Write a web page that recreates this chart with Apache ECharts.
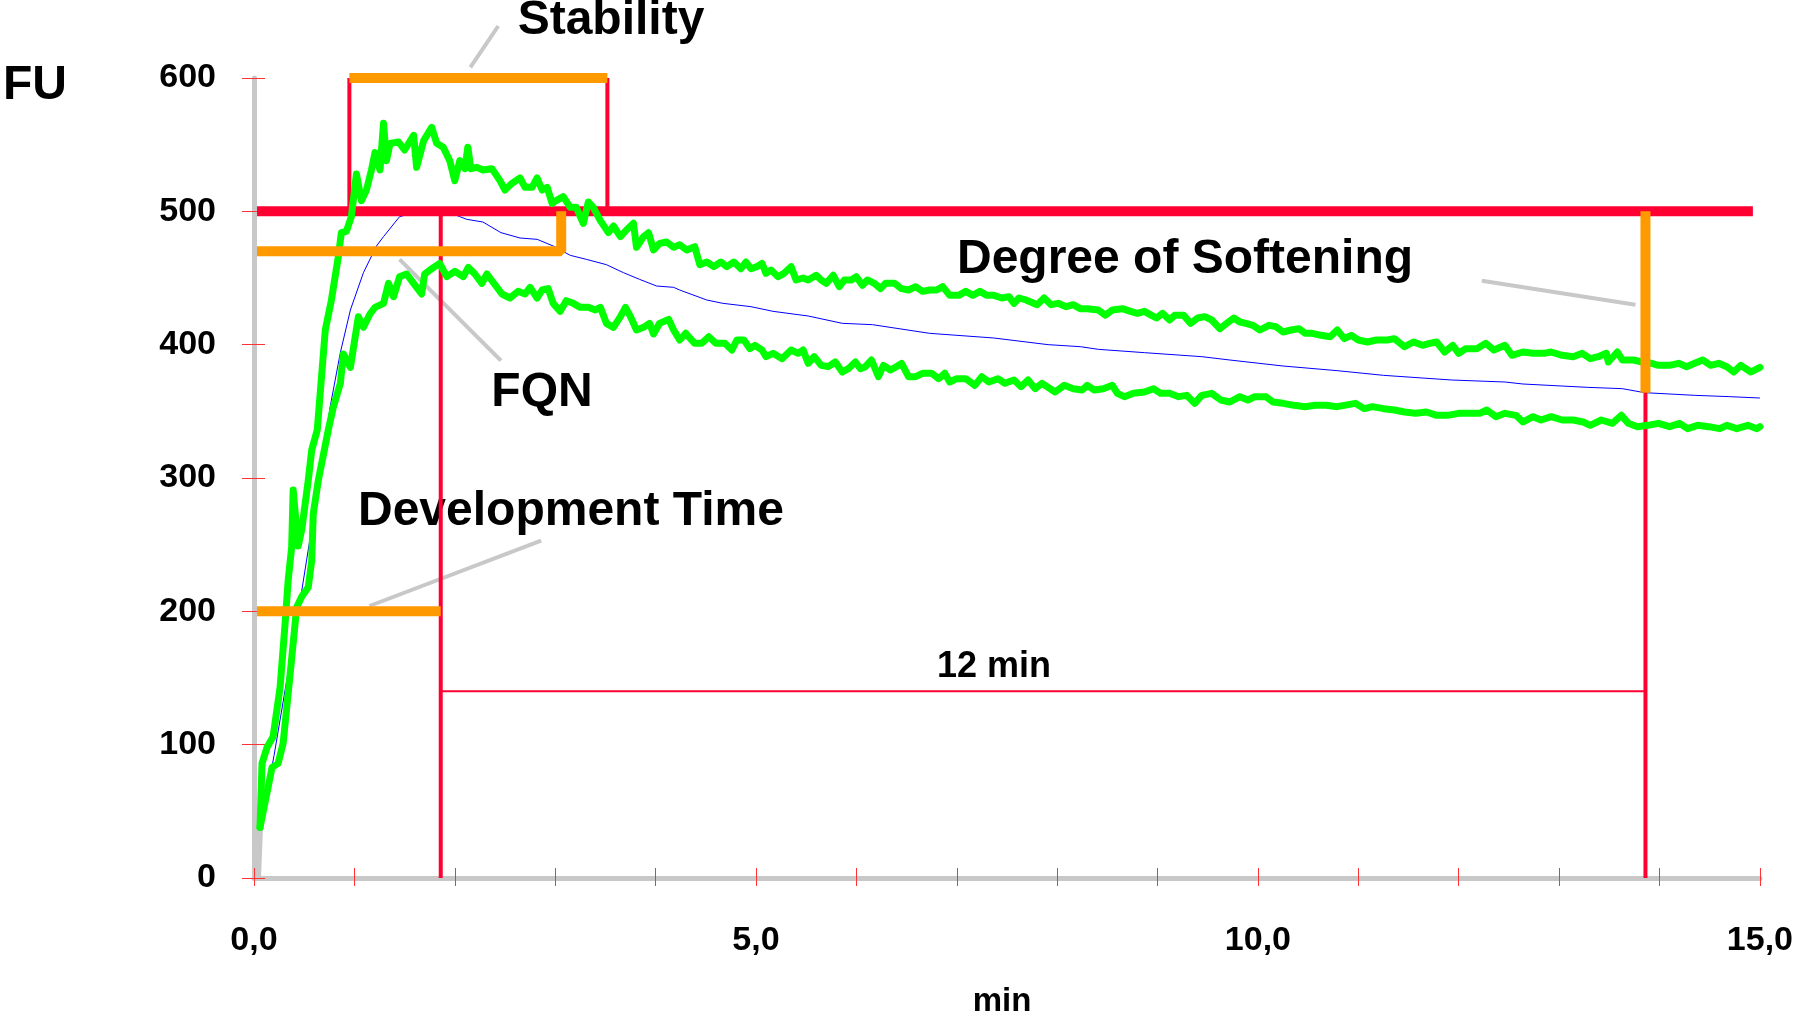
<!DOCTYPE html>
<html>
<head>
<meta charset="utf-8">
<title>Farinogram</title>
<script src="https://cdn.jsdelivr.net/npm/echarts@6/dist/echarts.min.js"></script>
<style>
  html, body { margin: 0; padding: 0; background: #fff; }
  #chart { width: 1796px; height: 1018px; }
</style>
</head>
<body>
<div id="chart"></div>
<script>
// consistency curves, [min, FU]
const upperCurve = [
  [0.06,38],[0.08,86],[0.13,98],[0.19,106],[0.26,143],[0.31,191],[0.34,223],[0.375,248],[0.39,291],[0.44,249],
  [0.475,261],[0.54,298],[0.575,321],[0.63,336],[0.71,411],[0.77,433],[0.84,466],[0.87,484],[0.92,485],[0.97,496],
  [1.02,528],[1.07,508],[1.12,516],[1.17,531],[1.205,544],[1.255,531],[1.29,566],[1.32,538],[1.355,551],[1.44,552],
  [1.50,546],[1.59,557],[1.62,533],[1.69,553],[1.77,563],[1.82,551],[1.885,548],[1.95,538],[2.00,523],[2.05,538],
  [2.10,532],[2.13,548],[2.16,532],[2.22,533],[2.28,531],[2.37,532],[2.45,523],[2.50,516],[2.57,521],[2.65,525],
  [2.70,518],[2.77,518],[2.82,525],[2.87,516],[2.92,518],[2.97,506],[3.01,508],[3.08,511],[3.15,503],[3.21,503],
  [3.28,491],[3.33,507],[3.38,503],[3.45,493],[3.53,484],[3.58,489],[3.65,481],[3.71,486],[3.78,491],[3.81,473],
  [3.88,481],[3.93,484],[3.98,471],[4.04,476],[4.11,477],[4.18,473],[4.24,475],[4.31,471],[4.39,473.5],[4.44,460],
  [4.51,462],[4.58,458.5],[4.65,462],[4.71,458.5],[4.78,462],[4.85,457],[4.90,462],[4.95,457],[5.01,458.5],[5.06,461],
  [5.10,453.5],[5.15,456],[5.22,451],[5.28,453.5],[5.35,458.5],[5.40,448.5],[5.47,450],[5.52,448.5],[5.60,452],[5.65,448.5],
  [5.70,446],[5.77,452],[5.83,443.5],[5.88,448.5],[5.95,448.5],[6.00,451],[6.06,444.5],[6.11,448.5],[6.18,446],[6.24,442],
  [6.29,446],[6.38,446],[6.45,442],[6.52,441],[6.59,443.5],[6.66,440],[6.73,441],[6.80,441],[6.86,443.5],[6.93,437],
  [7.02,437],[7.09,440],[7.16,437],[7.23,440],[7.30,437],[7.37,437],[7.45,435],[7.52,436],[7.57,431],[7.62,435],
  [7.69,433.5],[7.80,430],[7.87,435],[7.94,430],[8.01,431],[8.09,428.5],[8.16,430],[8.23,427],[8.30,427],[8.41,426],
  [8.48,422],[8.55,426],[8.65,427],[8.73,425],[8.80,423.5],[8.87,425],[8.94,422],[8.99,420],[9.05,423.5],[9.12,418.5],
  [9.17,422],[9.26,422],[9.33,416],[9.40,420],[9.47,421],[9.54,418.5],[9.62,412],[9.69,416],[9.76,420],[9.82,417],
  [9.88,416],[9.95,414.5],[10.02,411],[10.11,414.5],[10.18,413.5],[10.25,409.5],[10.33,411],[10.41,412],[10.47,408.5],[10.54,408.5],
  [10.63,407],[10.72,406],[10.79,411],[10.86,404.5],[10.93,407],[11.00,403.5],[11.09,402],[11.18,403.5],[11.29,403.5],[11.36,404.5],
  [11.46,398.5],[11.55,402],[11.64,399.5],[11.71,401],[11.78,402],[11.86,394.5],[11.94,399.5],[12.00,393.5],[12.07,397],[12.18,397],
  [12.27,401],[12.35,396],[12.46,399.5],[12.53,392],[12.64,394.5],[12.74,393.5],[12.85,393.5],[12.92,394.5],[13.03,392],[13.14,391],
  [13.23,393.5],[13.31,389.5],[13.39,391],[13.47,393.5],[13.49,387],[13.58,394.5],[13.63,388.5],[13.74,388.5],[13.83,387],[13.92,386],
  [13.99,384.5],[14.10,384.5],[14.19,386],[14.27,383.5],[14.35,386],[14.43,388.5],[14.51,384.5],[14.59,386],[14.67,383.5],[14.74,379.5],
  [14.81,384.5],[14.91,379.5],[15.00,383]
];

const lowerCurve = [
  [0.06,38],[0.18,83],[0.24,86],[0.29,101],[0.36,153],[0.425,203],[0.475,211],[0.54,218],[0.575,238],[0.59,273],
  [0.64,298],[0.74,336],[0.79,353],[0.86,371],[0.89,393],[0.96,383],[1.04,421],[1.09,413],[1.155,423],[1.205,428],
  [1.29,431],[1.34,446],[1.39,436],[1.45,451],[1.52,453],[1.59,446],[1.67,438],[1.70,453],[1.79,458],[1.85,461],
  [1.92,451],[2.00,455],[2.085,451],[2.135,458],[2.20,453],[2.27,446],[2.32,453],[2.38,447],[2.47,438],[2.55,435],
  [2.63,440],[2.70,438],[2.75,443],[2.82,435],[2.87,441],[2.93,442],[2.98,431],[3.05,425],[3.11,433],[3.18,431],
  [3.25,428],[3.33,428],[3.40,426],[3.45,428],[3.51,416],[3.58,413],[3.65,421],[3.70,428],[3.75,421],[3.81,411],
  [3.88,413],[3.94,416],[3.98,408],[4.04,416],[4.13,419],[4.18,411],[4.24,403.5],[4.30,408.5],[4.39,401],[4.46,401],
  [4.53,406],[4.60,401],[4.69,401],[4.76,396],[4.81,403.5],[4.88,403.5],[4.94,397],[4.99,399.5],[5.06,396],[5.10,391],
  [5.17,393.5],[5.26,389.5],[5.35,396],[5.42,393.5],[5.47,396],[5.52,386],[5.58,391],[5.65,384.5],[5.72,383.5],[5.79,387],
  [5.86,379.5],[5.92,382],[5.99,387],[6.04,382],[6.09,383.5],[6.15,388.5],[6.22,376],[6.27,384.5],[6.34,381],[6.40,383.5],
  [6.45,386],[6.52,376],[6.59,376],[6.66,378.5],[6.75,378.5],[6.82,374.5],[6.88,378.5],[6.93,372],[7.00,374.5],[7.09,374.5],
  [7.18,369.5],[7.25,376],[7.32,372],[7.41,374.5],[7.48,371],[7.57,373.5],[7.64,368.5],[7.71,373.5],[7.78,367],[7.85,371],
  [7.98,364.5],[8.07,369.5],[8.16,367],[8.25,366],[8.30,369.5],[8.37,366],[8.46,367],[8.55,369.5],[8.60,363.5],[8.67,361],
  [8.76,363.5],[8.87,364.5],[8.96,367],[9.03,363.5],[9.12,363.5],[9.21,361],[9.29,362],[9.37,356],[9.44,362],[9.54,363.5],
  [9.63,358.5],[9.72,357],[9.82,361],[9.90,358.5],[9.97,361],[10.08,361],[10.15,357],[10.25,356],[10.36,354.5],[10.47,353.5],
  [10.57,354.5],[10.68,354.5],[10.79,353.5],[10.86,354.5],[10.97,356],[11.06,352],[11.14,353.5],[11.25,352],[11.36,351],[11.46,349.5],
  [11.57,348.5],[11.68,349.5],[11.78,347],[11.89,347],[12.00,348.5],[12.10,348.5],[12.21,348.5],[12.28,351],[12.37,346],[12.46,348.5],
  [12.57,347],[12.64,342],[12.74,346],[12.82,343.5],[12.92,346],[13.03,343.5],[13.14,343.5],[13.24,342],[13.31,339.5],[13.42,343.5],
  [13.53,341],[13.62,347],[13.69,341],[13.78,338.5],[13.88,339.5],[13.99,341],[14.10,338.5],[14.20,341],[14.28,337],[14.38,339.5],
  [14.49,338.5],[14.60,337],[14.67,339.5],[14.77,337],[14.88,339.5],[14.97,337],[15.00,338.5]
];

const medianCurve = [
  [0.06,36],[0.2,92],[0.33,150],[0.46,208],[0.62,284],[0.76,354],[0.86,394],[0.96,426],[1.09,454],[1.22,474],
  [1.29,481],[1.45,496],[1.6,499],[1.8,501],[1.95,499],[2.05,496],[2.12,494],[2.28,492],[2.46,484],[2.65,480],
  [2.82,479],[2.98,474],[3.15,467],[3.31,464],[3.51,460],[3.68,454],[3.84,449],[4.01,444],[4.18,443],[4.24,441],
  [4.51,433.5],[4.67,431],[4.95,428.5],[5.17,425],[5.52,421.5],[5.86,416],[6.16,415],[6.73,408.5],[7.37,405],[7.91,400],
  [8.23,398.5],[8.41,396.5],[8.87,394],[9.44,391],[9.72,388.5],[10.25,384],[10.79,380.5],[11.25,377],[11.93,373.5],[12.46,372],
  [12.64,370.5],[13.28,368],[13.63,367],[13.85,364],[14.35,362],[14.70,361],[15.00,360]
];
const startTrace = [[0.04,0],[0.06,38]];

// evaluation (min / FU)
const devTime = 1.86;
const softTime = 13.86;
const stabStart = 0.95;
const stabEnd = 3.52;
const fqnTime = 3.06;
const lineFU = 500;
const fqnFU = 470;
const devFU = 200;
const softFU = 364;
const spanFU = 140;

// leader lines from labels
const stabLeader = [[2.155,608],[2.433,639]];
const fqnLeader = [[1.45,464],[2.46,388]];
const devLeader = [[1.15,204],[2.86,253]];
const softLeader = [[12.23,448],[13.76,430]];

const RED = '#ff0033', ORANGE = '#ff9900', GREEN = '#00ff00', BLUE = '#0000ff', GREY = '#c8c8c8';
const FONT = '"Liberation Sans", Arial, sans-serif';

function seg(data, color, width, z, extra) {
  return Object.assign({
    type: 'line', data: data, symbol: 'none', clip: false, silent: true, z: z,
    animation: false, lineStyle: { color: color, width: width }
  }, extra || {});
}

function label(text, x, y, size, align) {
  return {
    type: 'text', x: x, y: y, silent: true,
    style: { text: text, fill: '#000', fontSize: size, fontWeight: 'bold', fontFamily: FONT,
             align: align || 'center', verticalAlign: 'middle' }
  };
}

const chart = echarts.init(document.getElementById('chart'));

const tickStyle = { color: '#ff3333', width: 1 };

chart.setOption({
  animation: false,
  backgroundColor: '#fff',
  grid: { left: 254, top: 78, right: 32, bottom: 140, containLabel: false },
  xAxis: [
    {
      type: 'value', min: 0, max: 15, interval: 1, position: 'bottom',
      axisLine: { show: true, lineStyle: { color: GREY, width: 5 } },
      axisTick: { show: true, length: 8, lineStyle: tickStyle },
      axisLabel: {
        margin: 46, fontSize: 34, fontWeight: 'bold', fontFamily: FONT, color: '#000',
        formatter: v => (v % 5 === 0 ? v.toFixed(1).replace('.', ',') : '')
      },
      splitLine: { show: false }
    },
    {
      type: 'value', min: 0, max: 15, interval: 1, position: 'bottom', offset: 0,
      axisLine: { show: false },
      axisTick: { show: true, inside: true, length: 10, lineStyle: tickStyle },
      axisLabel: { show: false },
      splitLine: { show: false }
    }
  ],
  yAxis: [
    {
      type: 'value', min: 0, max: 600, interval: 100, position: 'left',
      axisLine: { show: true, lineStyle: { color: GREY, width: 5 } },
      axisTick: { show: true, length: 12, lineStyle: tickStyle },
      axisLabel: { margin: 38, fontSize: 34, fontWeight: 'bold', fontFamily: FONT, color: '#000' },
      splitLine: { show: false }
    },
    {
      type: 'value', min: 0, max: 600, interval: 100, position: 'left', offset: 0,
      axisLine: { show: false },
      axisTick: { show: true, inside: true, length: 11, lineStyle: tickStyle },
      axisLabel: { show: false },
      splitLine: { show: false }
    }
  ],
  series: [
    // leaders
    seg(stabLeader, GREY, 4, 1),
    seg(fqnLeader, GREY, 4, 1),
    seg(devLeader, GREY, 4, 1),
    seg(softLeader, GREY, 4, 1),
    seg(startTrace, GREY, 6, 1),
    // median curve
    seg(medianCurve, BLUE, 1, 2),
    // red evaluation lines
    seg([[0.03, lineFU], [14.93, lineFU]], RED, 10, 3),
    seg([[stabStart, lineFU], [stabStart, 600]], RED, 4, 3),
    seg([[stabEnd, lineFU], [stabEnd, 600]], RED, 4, 3),
    seg([[devTime, 0], [devTime, lineFU]], RED, 4, 3),
    seg([[softTime, 0], [softTime, lineFU]], RED, 4, 3),
    seg([[devTime, spanFU], [softTime, spanFU]], RED, 2, 3),
    // band curves
    seg(upperCurve, GREEN, 7, 4, { lineStyle: { color: GREEN, width: 7, join: 'round', cap: 'round' } }),
    seg(lowerCurve, GREEN, 7, 4, { lineStyle: { color: GREEN, width: 7, join: 'round', cap: 'round' } }),
    // orange marks
    seg([[stabStart, 600], [stabEnd, 600]], ORANGE, 10, 5),
    seg([[0.03, fqnFU], [fqnTime, fqnFU], [fqnTime, lineFU]], ORANGE, 10, 5),
    seg([[0.03, devFU], [devTime, devFU]], ORANGE, 10, 5),
    seg([[softTime, lineFU], [softTime, softFU]], ORANGE, 10, 5)
  ],
  graphic: [
    label('FU', 35, 86, 48),
    label('Stability', 611, 21, 48),
    label('FQN', 542, 393, 48),
    label('Development Time', 358, 512, 48, 'left'),
    label('Degree of Softening', 957, 260, 48, 'left'),
    label('12 min', 994, 667, 36),
    label('min', 1002, 1002, 33)
  ]
});
</script>
</body>
</html>
